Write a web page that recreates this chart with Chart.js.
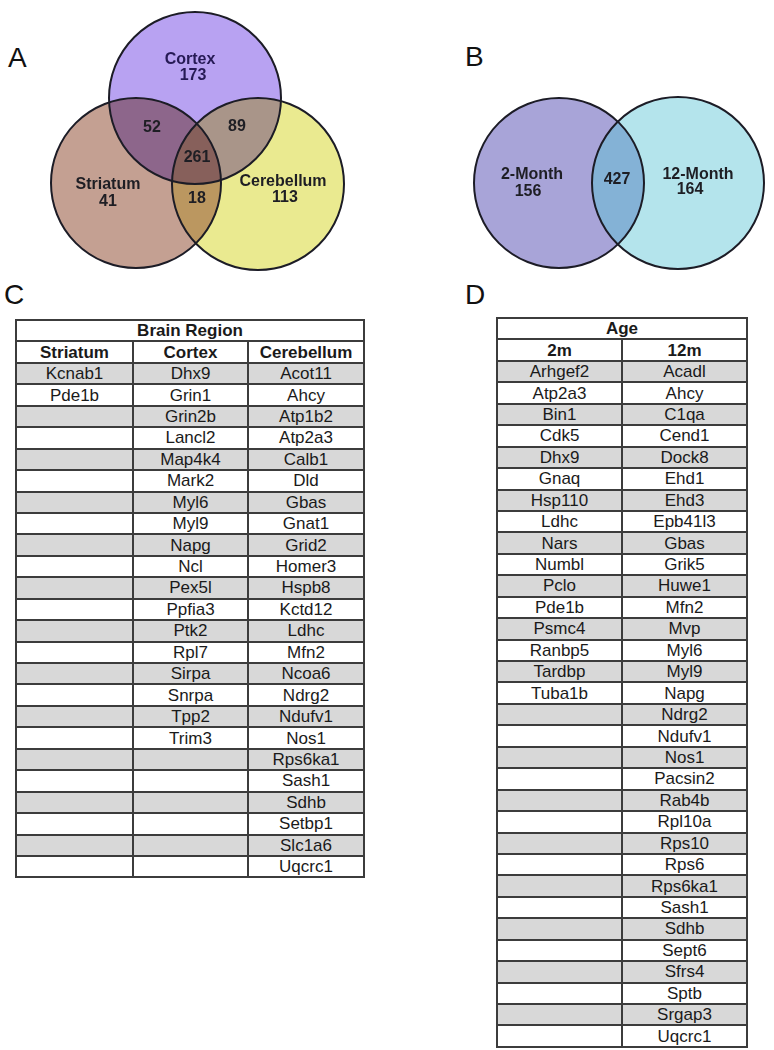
<!DOCTYPE html>
<html lang="en">
<head>
    <meta charset="UTF-8">
    <title>Brain region and age overlap</title>
    <script src="https://cdn.jsdelivr.net/npm/chart.js"></script>
    <style>
        body {
            margin: 0;
            width: 774px;
            height: 1050px;
            position: relative;
            overflow: hidden;
            background-color: white;
            font-family: "Liberation Sans", Arial, sans-serif;
        }
        .panel-letter {
            position: absolute;
            font-size: 28px;
            line-height: 28px;
            color: #111;
        }
        canvas {
            position: absolute;
        }
        table.genes {
            position: absolute;
            border-collapse: collapse;
            table-layout: fixed;
            font-size: 17px;
            color: #1a1a1a;
        }
        table.genes tr {
            height: 21.45px;
        }
        table.genes td {
            border: 2px solid #3c3c3c;
            padding: 0;
            line-height: 17px;
            text-align: center;
            white-space: nowrap;
        }
        table.genes tr.head td {
            font-weight: bold;
        }
        table.genes tr.shade td {
            background-color: #d8d8d8;
        }
    </style>
</head>
<body>
    <div class="panel-letter" style="left:8px;top:44px">A</div>
    <div class="panel-letter" style="left:465px;top:43px">B</div>
    <div class="panel-letter" style="left:4px;top:281px">C</div>
    <div class="panel-letter" style="left:465px;top:281px">D</div>

    <canvas id="vennA" width="390" height="275" style="left:0;top:0"></canvas>
    <canvas id="vennB" width="374" height="275" style="left:400px;top:0"></canvas>

    <table id="tableC" class="genes" style="left:15px;top:319px;width:348px"></table>
    <table id="tableD" class="genes" style="left:496px;top:317px;width:250px"></table>

    <script>
        // Venn A - proteins per brain region
        const regionSets = ['Cortex', 'Striatum', 'Cerebellum'];
        const regionOnly = [173, 41, 113];
        const regionPairCounts = [52, 89, 18];   // cortex+striatum, cortex+cerebellum, striatum+cerebellum
        const regionAll = 261;

        // Venn B - proteins per age
        const ageSets = ['2-Month', '12-Month'];
        const ageOnly = [156, 164];
        const ageBoth = 427;

        // Table C
        const regionHeader = ['Striatum', 'Cortex', 'Cerebellum'];
        const striatumGenes = ['Kcnab1', 'Pde1b'];
        const cortexGenes = ['Dhx9', 'Grin1', 'Grin2b', 'Lancl2', 'Map4k4', 'Mark2', 'Myl6', 'Myl9', 'Napg',
            'Ncl', 'Pex5l', 'Ppfia3', 'Ptk2', 'Rpl7', 'Sirpa', 'Snrpa', 'Tpp2', 'Trim3'];
        const cerebellumGenes = ['Acot11', 'Ahcy', 'Atp1b2', 'Atp2a3', 'Calb1', 'Dld', 'Gbas', 'Gnat1', 'Grid2',
            'Homer3', 'Hspb8', 'Kctd12', 'Ldhc', 'Mfn2', 'Ncoa6', 'Ndrg2', 'Ndufv1', 'Nos1', 'Rps6ka1',
            'Sash1', 'Sdhb', 'Setbp1', 'Slc1a6', 'Uqcrc1'];

        // Table D
        const ageHeader = ['2m', '12m'];
        const twoMonthGenes = ['Arhgef2', 'Atp2a3', 'Bin1', 'Cdk5', 'Dhx9', 'Gnaq', 'Hsp110', 'Ldhc', 'Nars',
            'Numbl', 'Pclo', 'Pde1b', 'Psmc4', 'Ranbp5', 'Tardbp', 'Tuba1b'];
        const twelveMonthGenes = ['Acadl', 'Ahcy', 'C1qa', 'Cend1', 'Dock8', 'Ehd1', 'Ehd3', 'Epb41l3', 'Gbas',
            'Grik5', 'Huwe1', 'Mfn2', 'Mvp', 'Myl6', 'Myl9', 'Napg', 'Ndrg2', 'Ndufv1', 'Nos1', 'Pacsin2',
            'Rab4b', 'Rpl10a', 'Rps10', 'Rps6', 'Rps6ka1', 'Sash1', 'Sdhb', 'Sept6', 'Sfrs4', 'Sptb',
            'Srgap3', 'Uqcrc1'];

        // layout of the circles (1 chart unit == 1 canvas px), kept apart from the data
        // top: circle drawn over the others with multiply blending
        const layoutA = {
            w: 390, h: 275,
            base: [
                { x: 258, y: 184, r: 86, fill: '#eaea90' },                  // cerebellum
                { x: 136, y: 183, r: 85, fill: 'rgba(148, 82, 57, 0.55)' }   // striatum
            ],
            top: [
                { x: 195, y: 98, r: 86, fill: '#b8a2f2' }                    // cortex
            ]
        };
        const layoutB = {
            w: 374, h: 275,
            base: [
                { x: 159, y: 183, r: 85, fill: '#a8a4d8' },
                { x: 278, y: 183, r: 86, fill: 'rgba(88, 195, 213, 0.45)' }
            ],
            top: []
        };

        const labelsA = [
            { text: regionSets[0], x: 190, y: 60, color: '#261a55' },
            { text: String(regionOnly[0]), x: 193, y: 76, color: '#261a55' },
            { text: String(regionPairCounts[0]), x: 152, y: 128 },
            { text: String(regionPairCounts[1]), x: 237, y: 127 },
            { text: String(regionAll), x: 197, y: 158 },
            { text: regionSets[1], x: 108, y: 185 },
            { text: String(regionOnly[1]), x: 108, y: 202 },
            { text: String(regionPairCounts[2]), x: 197, y: 199 },
            { text: regionSets[2], x: 283, y: 182 },
            { text: String(regionOnly[2]), x: 285, y: 198 }
        ];
        const labelsB = [
            { text: ageSets[0], x: 132, y: 175 },
            { text: String(ageOnly[0]), x: 128, y: 192 },
            { text: String(ageBoth), x: 217, y: 180 },
            { text: ageSets[1], x: 298, y: 175 },
            { text: String(ageOnly[1]), x: 290, y: 190 }
        ];

        const vennLabels = {
            id: 'vennLabels',
            beforeDatasetDraw(chart, args) {
                if (args.meta._dataset.blend) {
                    chart.ctx.save();
                    chart.ctx.globalCompositeOperation = args.meta._dataset.blend;
                }
            },
            afterDatasetDraw(chart, args) {
                if (args.meta._dataset.blend) chart.ctx.restore();
            },
            afterDatasetsDraw(chart, args, opts) {
                const { ctx, scales: { x, y } } = chart;
                ctx.save();
                ctx.font = 'bold 16px "Liberation Sans", Arial, sans-serif';
                ctx.textAlign = 'center';
                ctx.textBaseline = 'middle';
                opts.items.forEach(it => {
                    ctx.fillStyle = it.color || '#1e1e24';
                    ctx.fillText(it.text, x.getPixelForValue(it.x), y.getPixelForValue(it.y));
                });
                ctx.restore();
            }
        };

        function drawVenn(id, layout, labels) {
            const all = layout.base.concat(layout.top);
            const toPts = list => list.map(c => ({ x: c.x, y: c.y, r: c.r }));
            // datasets are painted last-to-first, so outlines (index 0) end up on top
            const datasets = [
                { data: toPts(all), backgroundColor: 'rgba(0,0,0,0)', borderColor: '#1c1c26', borderWidth: 2, clip: false }
            ];
            if (layout.top.length) {
                datasets.push({ data: toPts(layout.top), backgroundColor: layout.top.map(c => c.fill), borderWidth: 0, clip: false, blend: 'multiply' });
            }
            datasets.push({ data: toPts(layout.base), backgroundColor: layout.base.map(c => c.fill), borderWidth: 0, clip: false });

            new Chart(document.getElementById(id), {
                type: 'bubble',
                data: { datasets: datasets },
                options: {
                    responsive: false,
                    animation: false,
                    events: [],
                    layout: { padding: 0, autoPadding: false },
                    plugins: {
                        legend: { display: false },
                        tooltip: { enabled: false },
                        vennLabels: { items: labels }
                    },
                    scales: {
                        x: { type: 'linear', min: 0, max: layout.w, display: false },
                        y: { type: 'linear', min: 0, max: layout.h, reverse: true, display: false }
                    }
                },
                plugins: [vennLabels]
            });
        }

        drawVenn('vennA', layoutA, labelsA);
        drawVenn('vennB', layoutB, labelsB);

        function buildTable(id, title, header, columns, widths) {
            const table = document.getElementById(id);
            let html = '<colgroup>' + widths.map(w => `<col style="width:${w}px">`).join('') + '</colgroup>';
            html += `<tr class="head"><td colspan="${columns.length}">${title}</td></tr>`;
            html += '<tr class="head">' + header.map(h => `<td>${h}</td>`).join('') + '</tr>';
            const n = Math.max(...columns.map(c => c.length));
            for (let i = 0; i < n; i++) {
                html += `<tr class="${i % 2 === 0 ? 'shade' : ''}">` +
                    columns.map(c => `<td>${c[i] || ''}</td>`).join('') + '</tr>';
            }
            table.innerHTML = html;
        }

        buildTable('tableC', 'Brain Region', regionHeader, [striatumGenes, cortexGenes, cerebellumGenes], [117, 115, 116]);
        buildTable('tableD', 'Age', ageHeader, [twoMonthGenes, twelveMonthGenes], [125, 125]);
    </script>
</body>
</html>
